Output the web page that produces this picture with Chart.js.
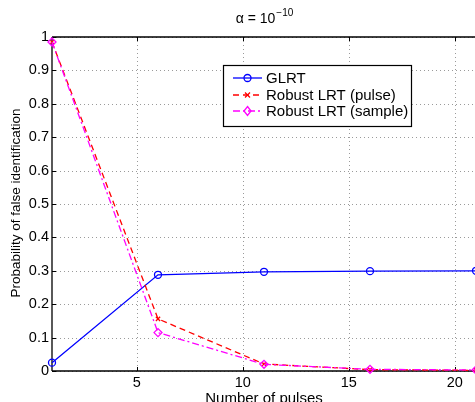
<!DOCTYPE html>
<html>
<head>
<meta charset="utf-8">
<script src="https://cdn.jsdelivr.net/npm/chart.js@4.4.1/dist/chart.umd.min.js"></script>
<style>
    html, body { margin: 0; padding: 0; background: #fff; overflow: hidden; }
    #wrap { position: relative; width: 500px; height: 402px; }
</style>
</head>
<body>
<div id="wrap"><canvas id="chart"></canvas></div>
<script>
    'use strict';

    const pulses = [1, 6, 11, 16, 21];
    const glrt = [0.025, 0.288, 0.297, 0.299, 0.300];
    const robustPulse = [0.985, 0.156, 0.021, 0.004, 0.002];
    const robustSample = [0.985, 0.115, 0.020, 0.005, 0.003];
    const xTicks = [5, 10, 15, 20];
    const yTicks = [0, 0.1, 0.2, 0.3, 0.4, 0.5, 0.6, 0.7, 0.8, 0.9, 1];
    const seriesNames = ['GLRT', 'Robust LRT (pulse)', 'Robust LRT (sample)'];

    const FONT = 'Liberation Sans, Arial, Helvetica, sans-serif';

    function pts(ys) {
        return pulses.map(function(x, i) { return { x: x, y: ys[i] }; });
    }

    // matlab style box: dotted grid, black axes, inward ticks
    const frame = {
        id: 'frame',
        beforeDatasetsDraw: function(chart) {
            const c = chart.ctx, a = chart.chartArea;
            const xs = chart.scales.x, ys = chart.scales.y;
            c.save();
            c.strokeStyle = '#9a9a9a';
            c.lineWidth = 1;
            c.setLineDash([1, 3]);
            c.beginPath();
            xTicks.forEach(function(t) {
                const px = Math.round(xs.getPixelForValue(t)) + 0.5;
                c.moveTo(px, a.top); c.lineTo(px, a.bottom);
            });
            yTicks.forEach(function(t) {
                const py = Math.round(ys.getPixelForValue(t)) + 0.5;
                c.moveTo(a.left, py); c.lineTo(a.right, py);
            });
            c.stroke();
            c.setLineDash([]);

            c.strokeStyle = '#000';
            c.lineWidth = 1.3;
            c.beginPath();
            c.moveTo(a.left, a.top); c.lineTo(a.right, a.top);
            c.moveTo(a.left, a.top); c.lineTo(a.left, a.bottom);
            c.moveTo(a.left, a.bottom); c.lineTo(a.right, a.bottom);
            c.stroke();
            c.lineWidth = 1;
            c.beginPath();
            xTicks.forEach(function(t) {
                const px = Math.round(xs.getPixelForValue(t)) + 0.5;
                c.moveTo(px, a.bottom); c.lineTo(px, a.bottom - 4);
                c.moveTo(px, a.top); c.lineTo(px, a.top + 4);
            });
            yTicks.forEach(function(t) {
                const py = Math.round(ys.getPixelForValue(t)) + 0.5;
                c.moveTo(a.left, py); c.lineTo(a.left + 4, py);
            });
            c.stroke();
            c.restore();
        }
    };

    function drawMarker(c, style, x, y, color) {
        c.save();
        c.strokeStyle = color;
        c.lineWidth = 1.3;
        c.setLineDash([]);
        c.beginPath();
        if (style === 'circle') {
            c.arc(x, y, 3.5, 0, Math.PI * 2);
        } else if (style === 'crossRot') {
            c.moveTo(x - 2.5, y - 2.5); c.lineTo(x + 2.5, y + 2.5);
            c.moveTo(x + 2.5, y - 2.5); c.lineTo(x - 2.5, y + 2.5);
        } else {
            c.moveTo(x, y - 4.5); c.lineTo(x + 3.5, y); c.lineTo(x, y + 4.5); c.lineTo(x - 3.5, y); c.closePath();
        }
        c.stroke();
        c.restore();
    }

    const annotations = {
        id: 'annotations',
        afterDraw: function(chart) {
            const c = chart.ctx;
            c.save();
            c.fillStyle = '#000';

            // title with superscript
            const base = 'α = 10';
            c.font = '10px ' + FONT;
            const sup = '−10';
            const supW = c.measureText(sup).width;
            c.font = '14px ' + FONT;
            const baseW = c.measureText(base).width;
            const x0 = 264 - (baseW + supW) / 2;
            c.textBaseline = 'alphabetic';
            c.textAlign = 'left';
            c.fillText(base, x0, 23);
            c.font = '10px ' + FONT;
            c.fillText(sup, x0 + baseW + 1, 16);

            // axis titles
            c.font = '15px ' + FONT;
            c.textAlign = 'center';
            c.textBaseline = 'middle';
            c.fillText('Number of pulses', 264, 399);
            c.font = '13.5px ' + FONT;
            c.save();
            c.translate(16, 203);
            c.rotate(-Math.PI / 2);
            c.fillText('Probability of false identification', 0, 0);
            c.restore();

            // legend
            const lx = 223, ly = 65, lw = 188, lh = 61;
            c.fillStyle = '#fff';
            c.fillRect(lx, ly, lw, lh);
            c.strokeStyle = '#000';
            c.lineWidth = 1.2;
            c.strokeRect(lx + 0.5, ly + 0.5, lw, lh);
            const rows = [78, 95, 111];
            chart.data.datasets.forEach(function(ds, i) {
                const y = rows[i];
                c.save();
                c.strokeStyle = ds.borderColor;
                c.lineWidth = ds.borderWidth;
                c.setLineDash(ds.borderDash || []);
                c.beginPath();
                c.moveTo(233, y); c.lineTo(262, y);
                c.stroke();
                c.restore();
                drawMarker(c, ds.pointStyle, 247.5, y, ds.borderColor);
                c.fillStyle = '#000';
                c.font = '15px ' + FONT;
                c.textAlign = 'left';
                c.textBaseline = 'middle';
                c.fillText(ds.label, 266, y + 1);
            });
            c.restore();
        }
    };

    const commonDs = {
        showLine: true,
        fill: false,
        tension: 0,
        borderWidth: 1.3,
        pointRadius: 3.5,
        pointBorderWidth: 1.3,
        pointBackgroundColor: 'rgba(0,0,0,0)',
        clip: false
    };

    new Chart(document.getElementById('chart'), {
        type: 'scatter',
        data: {
            datasets: [
                Object.assign({}, commonDs, {
                    label: seriesNames[0], data: pts(glrt),
                    borderColor: '#0000ff', pointBorderColor: '#0000ff',
                    pointStyle: 'circle', order: 2
                }),
                Object.assign({}, commonDs, {
                    label: seriesNames[1], data: pts(robustPulse),
                    borderColor: '#ff0000', pointBorderColor: '#ff0000',
                    borderDash: [6, 4], pointStyle: 'crossRot', pointRadius: 3, order: 1
                }),
                Object.assign({}, commonDs, {
                    label: seriesNames[2], data: pts(robustSample),
                    borderColor: '#ff00ff', pointBorderColor: '#ff00ff',
                    borderDash: [7, 3, 2, 3], pointStyle: 'rectRot', pointRadius: 4, order: 0
                })
            ]
        },
        options: {
            responsive: true,
            maintainAspectRatio: false,
            animation: false,
            layout: { padding: { top: 37, right: 24, left: 0, bottom: 0 } },
            plugins: {
                legend: { display: false },
                tooltip: { enabled: false },
                title: { display: false }
            },
            scales: {
                x: {
                    type: 'linear',
                    min: 1, max: 21,
                    afterBuildTicks: function(s) { s.ticks = xTicks.map(function(v) { return { value: v }; }); },
                    afterFit: function(s) { s.height = 31; },
                    ticks: {
                        color: '#000', padding: 3,
                        font: { family: FONT, size: 14.5 },
                        maxRotation: 0
                    },
                    grid: { display: false, drawTicks: false },
                    border: { display: false }
                },
                y: {
                    min: 0, max: 1,
                    afterBuildTicks: function(s) { s.ticks = yTicks.map(function(v) { return { value: v }; }); },
                    afterFit: function(s) { s.width = 52; },
                    ticks: {
                        color: '#000', padding: 3,
                        font: { family: FONT, size: 14.5 },
                        callback: function(v) { return String(Math.round(v * 10) / 10); }
                    },
                    grid: { display: false, drawTicks: false },
                    border: { display: false }
                }
            }
        },
        plugins: [frame, annotations]
    });
</script>
</body>
</html>
